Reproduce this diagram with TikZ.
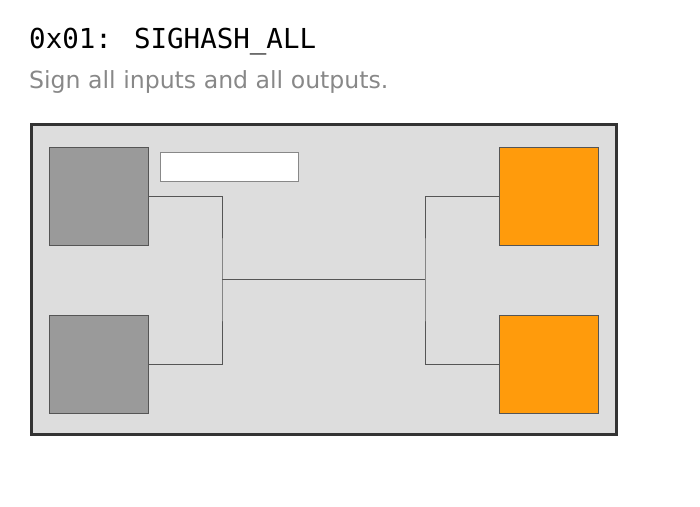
\documentclass[tikz,border=0pt]{standalone}
\usepackage{fontspec}
\setmainfont{DejaVu Sans}
\newfontfamily\titlemono{DejaVu Sans Mono}
\definecolor{framec}{HTML}{333333}
\definecolor{panelc}{HTML}{DDDDDD}
\definecolor{inc}{HTML}{9A9A9A}
\definecolor{outc}{HTML}{FF9B0C}
\definecolor{linec}{HTML}{555555}
\definecolor{subc}{HTML}{888888}
\tikzset{
  box/.style={draw=linec, line width=1pt},
  wire/.style={draw=linec, line width=0.8pt},
}
\begin{document}
\begin{tikzpicture}[x=1pt,y=-1pt]
\useasboundingbox (0,0) rectangle (700,506);
\node[anchor=base west, inner sep=0pt, font=\titlemono\fontsize{27.5}{32}\selectfont] (title) at (29,48.5) {0x01: SIGHASH\_ALL};
\node[anchor=base west, inner sep=0pt, text=subc, font=\fontsize{23.6}{28}\selectfont] (sub) at (29,88) {Sign all inputs and all outputs.};
\draw[draw=framec, fill=panelc, line width=3pt] (31,124) rectangle (616,434);
\path[box, fill=inc] (49,147) rectangle (148,245);
\node[inner sep=0pt, minimum width=99pt, minimum height=98pt] (in1) at (98.5,196) {};
\path[box, fill=inc] (49,315) rectangle (148,413);
\node[inner sep=0pt, minimum width=99pt, minimum height=98pt] (in2) at (98.5,364) {};
\path[box, fill=outc] (499,147) rectangle (598,245);
\node[inner sep=0pt, minimum width=99pt, minimum height=98pt] (out1) at (548.5,196) {};
\path[box, fill=outc] (499,315) rectangle (598,413);
\node[inner sep=0pt, minimum width=99pt, minimum height=98pt] (out2) at (548.5,364) {};
\draw[draw=subc, fill=white, line width=1pt] (160,152) rectangle (298,181);
\coordinate (jl) at (222,279);
\coordinate (jr) at (425,279);
\draw[wire] (in1.east) -| (jl) |- (in2.east);
\draw[wire] (jl) -- (jr);
\draw[wire] (out1.west) -| (jr) |- (out2.west);
\end{tikzpicture}
\end{document}
